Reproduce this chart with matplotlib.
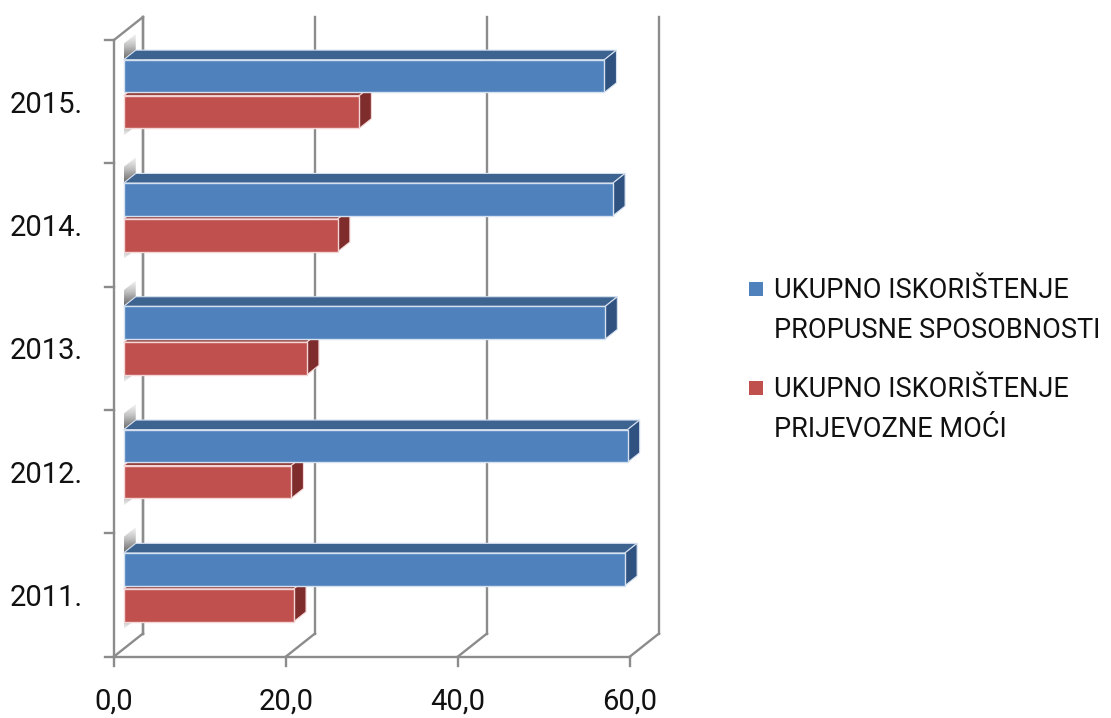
import matplotlib
matplotlib.use('Agg')
import matplotlib.pyplot as plt
from matplotlib.patches import Polygon
import numpy as np

# ---------------- data ----------------
years = ['2011.', '2012.', '2013.', '2014.', '2015.']
propusne = [58.3, 58.6, 56.0, 56.9, 55.9]     # blue series
prijevozne = [19.8, 19.5, 21.3, 24.9, 27.4]   # red series
series_labels = ['UKUPNO ISKORIŠTENJE\nPROPUSNE SPOSOBNOSTI',
                 'UKUPNO ISKORIŠTENJE\nPRIJEVOZNE MOĆI']
xticks = [0, 20, 40, 60]
xticklabels = ['0,0', '20,0', '40,0', '60,0']

# ---------------- styling ----------------
W, H = 1111, 718
FONT = 'Roboto'
txt_col = '#111111'
grid_col = '#8c8c8c'
blue_front, blue_top, blue_side = '#4f81bd', '#3d6390', '#2f5280'
red_front, red_top, red_side = '#c0504d', '#93403e', '#7e2d2c'

# pixel geometry of front plane
PX0, PX60 = 114.0, 630.0          # value 0 / 60 on front plane
PY_BOT, PY_TOP = 656.5, 40.0       # category axis ends on front plane
ppv = (PX60 - PX0) / 60.0
ppu = (PY_BOT - PY_TOP) / 5.0
DX = 29.0 / ppv                    # full depth offset in value units
DY = 23.0 / ppu                    # full depth offset in category units

fig = plt.figure(figsize=(W / 100, H / 100), dpi=100)
ax = fig.add_axes([0, 0, 1, 1])
ax.set_xlim((0 - PX0) / ppv, (W - PX0) / ppv)
ax.set_ylim((PY_BOT - H) / ppu, (PY_BOT - 0) / ppu)
ax.axis('off')


def proj(v, u, d):
    return (v + d * DX, u + d * DY)


lw = 1.7
ncat = len(years)
vmax = xticks[-1]

# left wall
ax.plot(*zip(proj(0, 0, 0), proj(0, ncat, 0)), color=grid_col, lw=lw, zorder=2)
ax.plot(*zip(proj(0, ncat, 0), proj(0, ncat, 1)), color=grid_col, lw=lw, zorder=2)
ax.plot(*zip(proj(0, 0, 1), proj(0, ncat, 1)), color=grid_col, lw=lw, zorder=1)
for k in range(ncat + 1):
    ax.plot([0, -9 / ppv], [k, k], color=grid_col, lw=lw, zorder=2)

# floor and back wall gridlines
ax.plot(*zip(proj(0, 0, 0), proj(vmax, 0, 0)), color=grid_col, lw=lw, zorder=2)
for t in xticks:
    ax.plot(*zip(proj(t, 0, 0), proj(t, 0, 1)), color=grid_col, lw=lw, zorder=1)
    ax.plot(*zip(proj(t, 0, 1), proj(t, ncat, 1)), color=grid_col, lw=lw, zorder=1)
    ax.plot([t, t], [0, -9 / ppu], color=grid_col, lw=lw, zorder=2)

# tick labels
for t, lab in zip(xticks, xticklabels):
    ax.text(t, -45 / ppu, lab, ha='center', va='center', fontsize=21,
            family=FONT, color=txt_col)
for i, y in enumerate(years):
    ax.text(-31 / ppv, i + 0.5 - 3 / ppu, y, ha='right', va='center',
            fontsize=21, family=FONT, color=txt_col)

# bars
d0, dd = 0.33, 0.42
h, g = 0.265, 0.013


def wedge(u_a, u_b, z):
    pts = [proj(0, u_a, d0), proj(0, u_a, d0 + dd),
           proj(0, u_b, d0 + dd), proj(0, u_b, d0)]
    poly = Polygon(pts, closed=True, facecolor='none', edgecolor='none')
    ax.add_patch(poly)
    xs = [p[0] for p in pts]
    ys = [p[1] for p in pts]
    grad = np.linspace(0, 1, 50).reshape(-1, 1) * np.ones((1, 10))
    if u_b < u_a:
        grad = grad[::-1]
    im = ax.imshow(grad, cmap='Greys', vmin=-0.2, vmax=1.6,
                   extent=[min(xs), max(xs), min(ys), max(ys)],
                   origin='upper', aspect='auto', zorder=z, interpolation='bilinear')
    im.set_clip_path(poly)


def bar3d(v, u0, u1, front, top, side, edge, z):
    fr = Polygon([proj(0, u0, d0), proj(v, u0, d0), proj(v, u1, d0), proj(0, u1, d0)],
                 closed=True, facecolor=front, edgecolor=edge, lw=1.0, zorder=z + 0.2)
    tp = Polygon([proj(0, u1, d0), proj(v, u1, d0), proj(v, u1, d0 + dd), proj(0, u1, d0 + dd)],
                 closed=True, facecolor=top, edgecolor=edge, lw=0.8, zorder=z)
    sd = Polygon([proj(v, u0, d0), proj(v, u1, d0), proj(v, u1, d0 + dd), proj(v, u0, d0 + dd)],
                 closed=True, facecolor=side, edgecolor=edge, lw=0.8, zorder=z)
    for p in (tp, sd, fr):
        ax.add_patch(p)


for i in range(ncat):
    c = i + 0.5
    wedge(c + h + g, c + h + g + 0.13, 3)
    wedge(c - h - g, c - h - g - 0.06, 3)
    bar3d(prijevozne[i], c - g - h, c - g, red_front, red_top, red_side, '#f3d6d5', 4)
    bar3d(propusne[i], c + g, c + g + h, blue_front, blue_top, blue_side, '#d6e1f0', 5)

# legend (placed from pixel positions)
leg_rows = [(289, blue_front), (388, red_front)]
for (py, col), lab in zip(leg_rows, series_labels):
    ax.add_patch(plt.Rectangle(((749 - PX0) / ppv, (PY_BOT - py - 7) / ppu),
                               14 / ppv, 14 / ppu, facecolor=col, edgecolor='none'))
    ax.text((774 - PX0) / ppv, (PY_BOT - py + 12) / ppu, lab, ha='left', va='top',
            fontsize=19.5, family=FONT, color=txt_col, linespacing=1.6)

fig.savefig('out.png', dpi=100)
